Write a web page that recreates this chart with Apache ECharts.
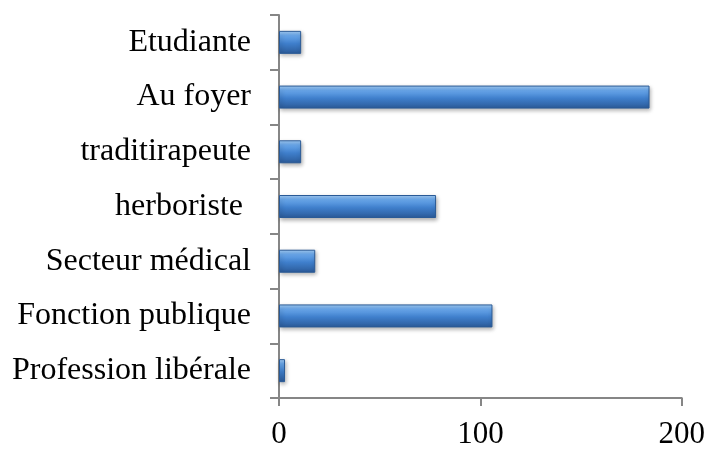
<!DOCTYPE html>
<html>
<head>
  <meta charset="utf-8"/>
  <title>Profession</title>
  <style>
    html, body { margin: 0; padding: 0; background: #fff; }
    #chart { width: 708px; height: 450px; }
  </style>
</head>
<body>
<div id="chart"></div>
<script src="https://cdn.jsdelivr.net/npm/echarts@6/dist/echarts.min.js"></script>
<script type="text/javascript">
// categories from bottom to top, as in the picture
var categories = ['Profession libérale', 'Fonction publique', 'Secteur médical', 'herboriste ', 'traditirapeute', 'Au foyer', 'Etudiante'];
var values = [3, 106, 18, 78, 11, 184, 11];
var xTicks = [0, 100, 200];

var chart = echarts.init(document.getElementById('chart'));

var barColor = new echarts.graphic.LinearGradient(0, 0, 0, 1, [
  { offset: 0, color: '#a6d0f8' },
  { offset: 0.2, color: '#6aa8ec' },
  { offset: 0.55, color: '#3f7fcc' },
  { offset: 1, color: '#2b5a98' }
]);

var option = {
  animation: false,
  grid: { left: 279, right: 25, top: 15, bottom: 50 },
  xAxis: {
    type: 'value',
    min: xTicks[0],
    max: xTicks[xTicks.length - 1],
    interval: 100,
    axisLine: { show: true, lineStyle: { color: '#868686', width: 2 } },
    axisTick: { show: true, length: 8, lineStyle: { color: '#868686', width: 2 } },
    splitLine: { show: false },
    axisLabel: { fontFamily: 'Liberation Serif', fontSize: 31, color: '#000', margin: 21 }
  },
  yAxis: {
    type: 'category',
    data: categories,
    axisLine: { show: true, lineStyle: { color: '#868686', width: 2 } },
    axisTick: { show: true, length: 9, lineStyle: { color: '#868686', width: 2 } },
    axisLabel: { fontFamily: 'Liberation Serif', fontSize: 32, color: '#000', margin: 28 }
  },
  series: [{
    type: 'bar',
    data: values,
    barWidth: 23,
    itemStyle: {
      color: barColor,
      borderColor: '#2a5a96',
      borderWidth: 1,
      shadowColor: 'rgba(0,0,0,0.3)',
      shadowBlur: 4,
      shadowOffsetX: 1,
      shadowOffsetY: 2
    }
  }]
};

chart.setOption(option);
</script>
</body>
</html>
